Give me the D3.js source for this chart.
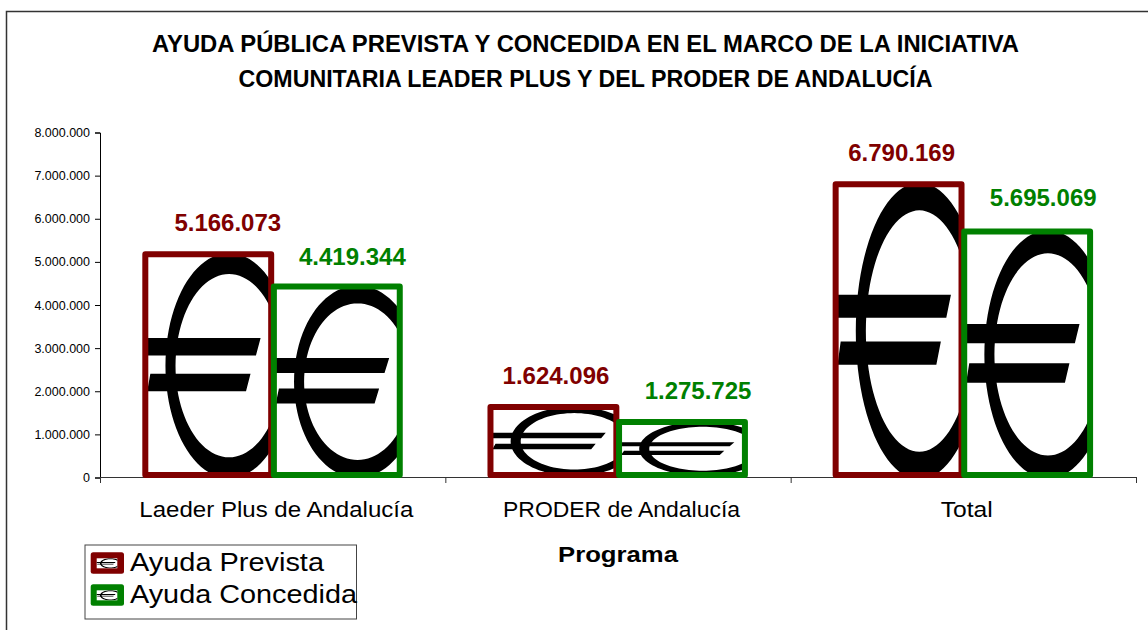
<!DOCTYPE html>
<html><head><meta charset="utf-8">
<script src="https://cdn.jsdelivr.net/npm/d3@7/dist/d3.min.js"></script>
<style>html,body{margin:0;padding:0;background:#fff;overflow:hidden}svg{display:block}text{font-family:"Liberation Sans",Arial,sans-serif;fill:#000}</style>
</head><body><div id="c"></div>
<script>
const categories = ["Laeder Plus de Andalucía","PRODER de Andalucía","Total"];
const seriesNames = ["Ayuda Prevista","Ayuda Concedida"];
const prevista = [5166073,1624096,6790169];
const concedida = [4419344,1275725,5695069];
const seriesColors = ["#800000","#008000"];
const yTicks = [0,1000000,2000000,3000000,4000000,5000000,6000000,7000000,8000000];
const titleLines = ["AYUDA PÚBLICA PREVISTA Y CONCEDIDA EN EL MARCO DE LA INICIATIVA","COMUNITARIA LEADER PLUS Y DEL PRODER DE ANDALUCÍA"];
const xTitle = "Programa";
const labelShift = [[19,15],[2,15.5],[2.5,15.5]];
const labelLift = [[24,22],[23,23],[24,26]];

const fmt = v => d3.format(",")(v).replace(/,/g,".");
const svg = d3.select("#c").append("svg").attr("width",1148).attr("height",630);
svg.append("path").attr("d","M6.5,630V11.5H1148").attr("fill","none").attr("stroke","#333").attr("stroke-width",1.5);

titleLines.forEach((t,i)=>svg.append("text").attr("x",585.5).attr("y",[52,87][i]).attr("text-anchor","middle")
  .attr("font-size",23).attr("font-weight","bold").attr("textLength",[867,694][i]).attr("lengthAdjust","spacingAndGlyphs").text(t));

const y = d3.scaleLinear().domain([0,8000000]).range([477.5,132.5]);
const x0 = d3.scaleBand().domain(categories).range([100.5,1136]).paddingInner(.255).paddingOuter(.1275);
const x1 = d3.scaleBand().domain(seriesNames).range([0,x0.bandwidth()]);
const barW = x1.bandwidth()-2.7;

const yAxis = d3.axisLeft(y).tickValues(yTicks).tickFormat(fmt).tickSize(5).tickPadding(5);
const gy = svg.append("g").attr("transform","translate(100,0)").call(yAxis);
gy.selectAll("path,line").attr("stroke","#000");
gy.selectAll("text").attr("font-size",12.5).attr("font-family","Liberation Sans");

const xAxis = d3.axisBottom(d3.scaleLinear().domain([0,3]).range([100,1136])).ticks(3).tickSize(6).tickFormat("");
const gx = svg.append("g").attr("transform","translate(0,477)").call(xAxis);
gx.selectAll("path,line").attr("stroke","#333");
const catLen = [274,237,52];
categories.forEach((c,i)=>svg.append("text").attr("x",x0(c)+x0.bandwidth()/2+3.3).attr("y",517).attr("text-anchor","middle").attr("font-size",22)
  .attr("textLength",catLen[i]).attr("lengthAdjust","spacingAndGlyphs").text(c));
svg.append("text").attr("x",618).attr("y",562).attr("text-anchor","middle").attr("font-size",22).attr("font-weight","bold")
  .attr("textLength",120).attr("lengthAdjust","spacingAndGlyphs").text(xTitle);

// Euro glyph in a unit square, stretched to the bar like Excel's "stretch picture" fill
function euroPath(){
  const p = d3.path();
  const e=(cx,cy,rx,ry)=>{const n=96;for(let i=0;i<=n;i++){const a=i/n*2*Math.PI,X=cx+rx*Math.cos(a),Y=cy+ry*Math.sin(a);i?p.lineTo(X,Y):p.moveTo(X,Y);}p.closePath();};
  e(.665,.505,.505,.51); e(.665,.505,.425,.415);
  return p.toString();
}
const euroBars = "M-.1,.38H.916L.879,.459H-.1ZM.04,.541H.836L.80,.621H.015Z";
function drawEuro(g,id,w,h){
  svg.append("clipPath").attr("id",id).append("rect").attr("x",0).attr("y",0).attr("width",1).attr("height",1);
  const u=g.append("g").attr("transform",`scale(${w},${h})`).attr("clip-path",`url(#${id})`);
  u.append("path").attr("d",euroPath()).attr("fill","#000").attr("fill-rule","evenodd");
  u.append("path").attr("d",euroBars).attr("fill","#000");
}
[prevista,concedida].forEach((vals,s)=>{
  categories.forEach((c,i)=>{
    const bx=x0(c)+x1(seriesNames[s])+.8, by=y(vals[i])-.5, h=y(0)-2.5-by;
    const g=svg.append("g").attr("transform",`translate(${bx},${by})`);
    g.append("rect").attr("width",barW).attr("height",h).attr("fill","#fff");
    drawEuro(g,`e${s}${i}`,barW,h);
    g.append("rect").attr("width",barW).attr("height",h).attr("fill","none").attr("stroke",seriesColors[s]).attr("stroke-width",6).attr("stroke-linejoin","round");
  });
});
[prevista,concedida].forEach((vals,s)=>{
  categories.forEach((c,i)=>{
    svg.append("text").attr("x",x0(c)+x1(seriesNames[s])+x1.bandwidth()/2+labelShift[i][s]).attr("y",y(vals[i])-labelLift[i][s])
      .attr("text-anchor","middle").attr("font-size",24).attr("font-weight","bold").style("fill",seriesColors[s]).text(fmt(vals[i]));
  });
});
// legend
const legendLen = [194,227];
svg.append("rect").attr("x",85).attr("y",545).attr("width",271.5).attr("height",74).attr("fill","#fff").attr("stroke","#444").attr("stroke-width",1);
seriesNames.forEach((n,i)=>{
  const ly=552.3+i*32;
  const g=svg.append("g").attr("transform",`translate(90.7,${ly})`);
  g.append("rect").attr("width",33.3).attr("height",21.4).attr("rx",2.5).attr("fill",seriesColors[i]);
  g.append("rect").attr("x",6).attr("y",6).attr("width",20.6).attr("height",10).attr("fill","#fff");
  drawEuro(g.append("g").attr("transform","translate(6,6)"),`l${i}`,20.6,10);
  svg.append("text").attr("x",130).attr("y",571+i*32).attr("font-size",26)
    .attr("textLength",legendLen[i]).attr("lengthAdjust","spacingAndGlyphs").text(n);
});
</script></body></html>
